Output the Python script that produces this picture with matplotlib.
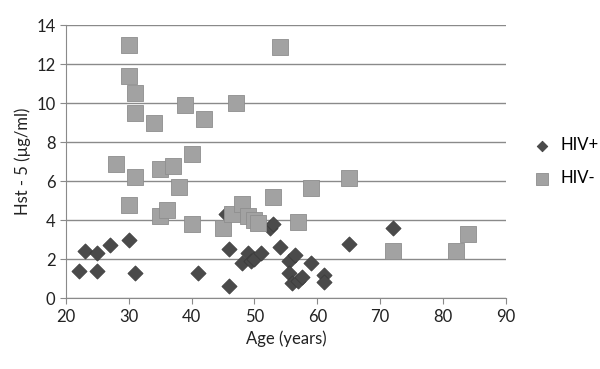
import numpy as np
import matplotlib
matplotlib.use('Agg')
import matplotlib.pyplot as plt

# values
hiv_pos_age = [22, 23, 25, 25, 27, 30, 31, 41, 45.5, 46, 46, 48, 49, 49.5, 50, 51,
               52.5, 53, 54, 55.5, 55.5, 56, 56.5, 57, 57.5, 59, 61, 61, 65, 72]
hiv_pos_hst = [1.4, 2.4, 2.3, 1.4, 2.7, 3.0, 1.3, 1.3, 4.3, 2.5, 0.6, 1.8, 2.3, 1.9, 2.0, 2.3,
               3.6, 3.8, 2.6, 1.9, 1.3, 0.8, 2.2, 0.9, 1.1, 1.8, 1.2, 0.85, 2.8, 3.6]

hiv_neg_age = [28, 30, 30, 30, 31, 31, 31, 34, 35, 35, 36, 37, 38, 39, 40, 40,
               42, 45, 46.5, 47, 48, 49, 50, 50.5, 53, 54, 57, 59, 65, 72, 82, 84]
hiv_neg_hst = [6.9, 13.0, 11.4, 4.8, 10.5, 9.5, 6.2, 9.0, 6.6, 4.2, 4.5, 6.8, 5.7, 9.9, 7.4, 3.8,
               9.2, 3.6, 4.3, 10.0, 4.85, 4.2, 4.0, 3.85, 5.2, 12.9, 3.9, 5.65, 6.15, 2.4, 2.4, 3.3]

plt.rcParams['font.family'] = ['Lato', 'DejaVu Sans']

fig = plt.figure(figsize=(6, 3.69), dpi=100)
ax = fig.add_axes([0.11, 0.192, 0.733, 0.74])

ax.scatter(hiv_pos_age, hiv_pos_hst, marker='D', s=60, color='#4a4a4a',
           edgecolors='#3a3a3a', linewidths=0.5, label='HIV+', zorder=3)
ax.scatter(hiv_neg_age, hiv_neg_hst, marker='s', s=145, color='#a2a2a2',
           edgecolors='#8e8e8e', linewidths=0.6, label='HIV-', zorder=4)

ax.set_xlim(20, 90)
ax.set_ylim(0, 14)
ax.set_xticks(np.arange(20, 91, 10))
ax.set_yticks(np.arange(0, 15, 2))
ax.yaxis.grid(True, color='#8a8a8a', linewidth=1.0)
ax.set_axisbelow(True)

for s in ['top', 'right']:
    ax.spines[s].set_visible(False)
for s in ['left', 'bottom']:
    ax.spines[s].set_color('#8a8a8a')
ax.tick_params(axis='both', colors='#8a8a8a', labelcolor='#222222', labelsize=12, length=4)

ax.set_xlabel('Age (years)', fontsize=12, color='#222222')
ax.set_ylabel('Hst - 5 (µg/ml)', fontsize=12, color='#222222')

leg = ax.legend(loc='center left', bbox_to_anchor=(1.03, 0.5), frameon=False,
                fontsize=12, handletextpad=0.1, labelspacing=1.0, markerscale=0.7,
                borderaxespad=0)

plt.savefig('out.png', dpi=100)
